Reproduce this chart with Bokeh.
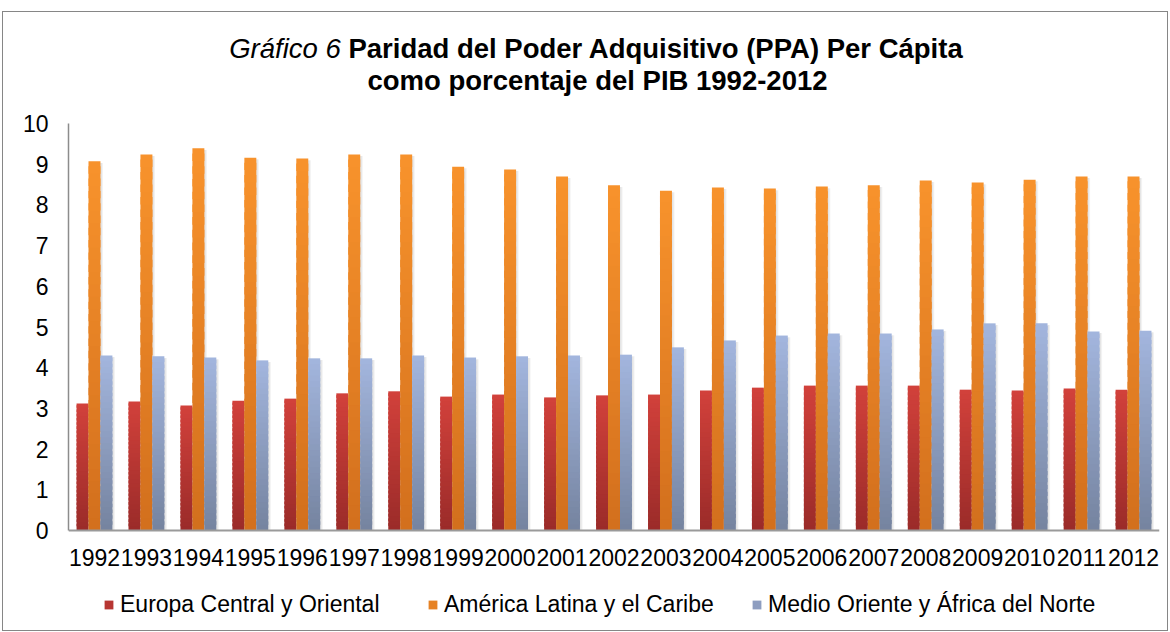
from bokeh.plotting import figure
from bokeh.models import (ColumnDataSource, FactorRange, Range1d, Legend, Label,
                          LegendItem, FixedTicker)
from bokeh.transform import dodge
from bokeh.embed import file_html
from bokeh.resources import INLINE

years = [str(y) for y in range(1992, 2013)]
europa = [3.12, 3.17, 3.07, 3.19, 3.24, 3.37, 3.42, 3.29, 3.34, 3.27, 3.32,
          3.34, 3.44, 3.51, 3.56, 3.56, 3.56, 3.46, 3.44, 3.49, 3.46]
america = [9.07, 9.24, 9.39, 9.16, 9.14, 9.24, 9.24, 8.94, 8.87, 8.70, 8.48,
           8.35, 8.43, 8.40, 8.45, 8.48, 8.60, 8.55, 8.62, 8.70, 8.70]
medio = [4.30, 4.28, 4.25, 4.18, 4.23, 4.23, 4.30, 4.25, 4.28, 4.30, 4.32,
         4.50, 4.67, 4.79, 4.84, 4.84, 4.94, 5.09, 5.09, 4.89, 4.91]
y_ticks = list(range(0, 11))
series_names = ["Europa Central y Oriental", "América Latina y el Caribe",
                "Medio Oriente y África del Norte"]
title_italic = "Gráfico 6"
title_bold_1 = "Paridad del Poder Adquisitivo (PPA) Per Cápita"
title_bold_2 = "como porcentaje del PIB 1992-2012"

FONT = "Liberation Sans"
W, H = 1164, 618
PX0 = 518      # pixel row (figure coords) of value 0
PX10 = 111     # pixel row (figure coords) of value 10
ppu = (PX0 - PX10) / 10.0
y_start = -(H - PX0) / ppu
y_end = PX0 / ppu

p = figure(width=W, height=H, output_backend="svg", toolbar_location=None,
           x_range=FactorRange(*years, range_padding=0, factor_padding=0),
           y_range=Range1d(y_start, y_end),
           min_border_left=65, min_border_right=8, min_border_top=0,
           min_border_bottom=0, margin=(12, 0, 0, 3))
p.styles = {"outline": "1px solid #868686"}
p.outline_line_color = None
p.background_fill_color = "white"
p.border_fill_color = "white"
p.xgrid.grid_line_color = None
p.ygrid.grid_line_color = None

for ax in (p.xaxis[0], p.yaxis[0]):
    ax.major_tick_line_color = None
    ax.minor_tick_line_color = None
    ax.major_label_text_font = FONT
    ax.major_label_text_font_size = "23px"
    ax.major_label_text_color = "black"
p.yaxis[0].ticker = FixedTicker(ticks=y_ticks)
p.yaxis[0].bounds = (y_ticks[0], y_ticks[-1])
p.yaxis[0].axis_line_color = "#8c8c8c"
p.yaxis[0].axis_line_width = 1.5
p.yaxis[0].major_label_standoff = 14
p.xaxis[0].fixed_location = 0
p.xaxis[0].axis_line_color = "#9a9a9a"
p.xaxis[0].axis_line_width = 2
p.xaxis[0].major_label_standoff = 12

BW = 0.23
offsets = [-BW, 0.0, BW]
grads = [("#d2413b", "#9a2b29"), ("#f8932c", "#d26f1d"), ("#a3b6de", "#75839f")]
datas = [europa, america, medio]
N = 30


def hex2rgb(h):
    return tuple(int(h[i:i + 2], 16) for i in (1, 3, 5))


def mix(c_top, c_bot, f):
    a, b = hex2rgb(c_top), hex2rgb(c_bot)
    return "#%02x%02x%02x" % tuple(int(round(b[i] + (a[i] - b[i]) * f)) for i in range(3))


# soft drop shadows
for vals, off in zip(datas, offsets):
    src = ColumnDataSource(dict(x=years, top=[v - 0.04 for v in vals]))
    p.vbar(x=dodge("x", off + 0.05, range=p.x_range), width=BW, bottom=0, top="top",
           source=src, fill_color="black", fill_alpha=0.05, line_color=None)
    p.vbar(x=dodge("x", off + 0.03, range=p.x_range), width=BW, bottom=0, top="top",
           source=src, fill_color="black", fill_alpha=0.05, line_color=None)

renderers = []
for vals, off, (ct, cb) in zip(datas, offsets, grads):
    xs, bots, tops, cols = [], [], [], []
    for y, v in zip(years, vals):
        for k in range(N):
            xs.append(y)
            bots.append(v * k / N)
            t = v * (k + 1) / N
            if k < N - 1:
                t += v * 0.6 / N
            tops.append(t)
            cols.append(mix(ct, cb, (k + 0.5) / N))
    src = ColumnDataSource(dict(x=xs, bottom=bots, top=tops, color=cols))
    r = p.vbar(x=dodge("x", off, range=p.x_range), width=BW, bottom="bottom", top="top",
               source=src, fill_color="color", line_color=None)
    renderers.append(r)

legend = Legend(items=[LegendItem(label=n, renderers=[r], index=N // 2)
                       for n, r in zip(series_names, renderers)],
                orientation="horizontal", location=(35, 12),
                padding=0, margin=0, spacing=0, border_line_color=None,
                background_fill_alpha=0, glyph_width=11, glyph_height=11,
                label_standoff=6, label_width=307,
                label_text_font=FONT, label_text_font_size="23px",
                label_text_color="black")
p.add_layout(legend)

# title (two lines, first line mixes italic and bold)
TS = 27.5
cx = 529
w_it = 4.057 * TS
w_sp = 0.278 * TS
w_bold = 22.45 * TS
start = cx - (w_it + w_sp + w_bold) / 2
y1 = H - 36
y2 = H - 68
p.add_layout(Label(x=start, y=y1, x_units="screen", y_units="screen",
                   text=title_italic, text_font=FONT, text_font_style="italic",
                   text_font_size=f"{TS}px", text_baseline="middle", text_align="left",
                   text_color="black"))
p.add_layout(Label(x=start + w_it + w_sp, y=y1, x_units="screen", y_units="screen",
                   text=title_bold_1, text_font=FONT,
                   text_font_style="bold", text_font_size=f"{TS}px",
                   text_baseline="middle", text_align="left", text_color="black"))
p.add_layout(Label(x=cx, y=y2, x_units="screen", y_units="screen",
                   text=title_bold_2, text_font=FONT,
                   text_font_style="bold", text_font_size=f"{TS}px",
                   text_baseline="middle", text_align="center", text_color="black"))

open("out.html", "w").write(file_html(p, INLINE))
